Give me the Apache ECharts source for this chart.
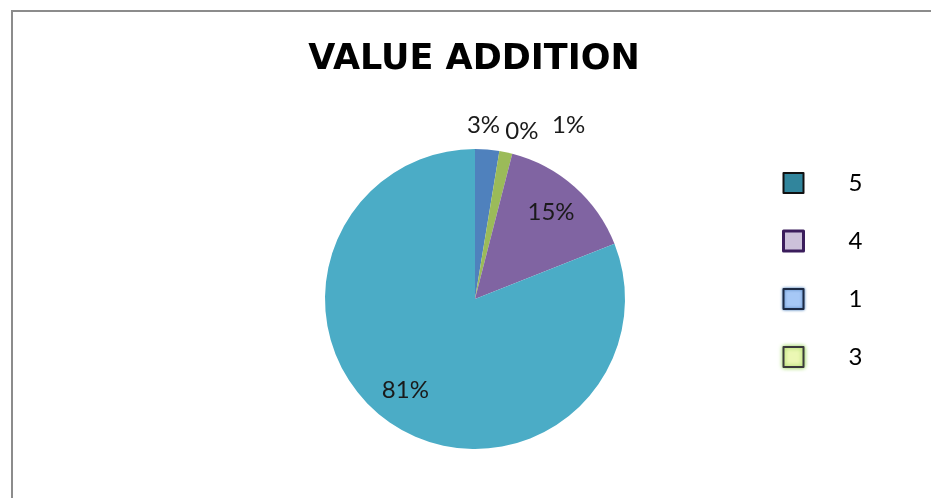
<!DOCTYPE html>
<html>
<head>
<meta charset="utf-8">
<script src="https://cdn.jsdelivr.net/npm/echarts@6/dist/echarts.min.js"></script>
<style>
  html, body { margin: 0; padding: 0; background: #fff; overflow: hidden; }
  #chart { position: absolute; left: 0; top: 0; width: 931px; height: 498px; }
  #frame { position: absolute; left: 11px; top: 10px; width: 1000px; height: 600px; border: 2px solid #8c8c8c; pointer-events: none; }
</style>
</head>
<body>
<div id="chart"></div>
<div id="frame"></div>
<script>
// pie order, clockwise from 12 o'clock
const categories = ['1', '2', '3', '4', '5'];
const values = [2.6, 0, 1.4, 15.0, 81.0];
const sliceColors = ['#4F81BD', '#C0504D', '#9BBB59', '#8064A2', '#4BACC6'];
const legendOrder = ['5', '4', '1', '3'];

const legendLook = {
  '5': { color: '#31859C', borderColor: '#111111', borderWidth: 2 },
  '4': { color: '#CCC1DA', borderColor: '#3b1d5c', borderWidth: 3 },
  '1': { color: '#A6C8F6', borderColor: '#1c2a44', borderWidth: 2, shadowColor: '#4F81BD', shadowBlur: 3 },
  '3': { color: '#EBF7B4', borderColor: '#3a3a3a', borderWidth: 2, shadowColor: '#92D050', shadowBlur: 4 }
};

// Excel pushed the thin-slice labels apart sideways
const thinLabelNudge = { 0: [-6, 4], 1: [18, 8], 2: [57, 0] };

const chart = echarts.init(document.getElementById('chart'));

const pieData = categories.map((c, i) => ({
  name: c,
  value: values[i],
  itemStyle: { color: sliceColors[i] }
}));
const labelData = categories.map((c, i) => ({ name: c, value: values[i] }));

const CENTER = [475, 299];
const labelFont = { fontFamily: 'Lato', fontSize: 24, color: '#1a1a1a' };
const clear = { color: 'rgba(0,0,0,0)', borderWidth: 0 };

chart.setOption({
  animation: false,
  title: {
    text: 'VALUE ADDITION',
    left: 469,
    top: 37,
    textAlign: 'center',
    textStyle: { fontFamily: 'DejaVu Sans', fontWeight: 'bold', fontSize: 35, color: '#000' }
  },
  legend: {
    orient: 'vertical',
    left: 777,
    top: 166,
    icon: 'rect',
    itemWidth: 20,
    itemHeight: 20,
    itemGap: 34,
    selectedMode: false,
    data: legendOrder.map(n => ({ name: n, itemStyle: legendLook[n] })),
    textStyle: { fontFamily: 'Lato', fontSize: 24, lineHeight: 24, color: '#000', padding: [0, 0, 0, 40] }
  },
  series: [
    {
      type: 'pie',
      center: CENTER,
      radius: 150,
      startAngle: 90,
      clockwise: true,
      data: pieData,
      label: { show: false },
      labelLine: { show: false },
      itemStyle: { borderWidth: 0 },
      silent: true
    },
    {
      // labels of the large slices, inside the pie
      type: 'pie',
      center: CENTER,
      radius: [74, 150],
      startAngle: 90,
      clockwise: true,
      data: labelData,
      itemStyle: clear,
      emphasis: { disabled: true },
      label: {
        position: 'inside',
        ...labelFont,
        formatter: p => (p.percent >= 5 ? Math.round(p.percent) + '%' : '')
      },
      labelLayout: p => (p.dataIndex === 4 ? { dx: -5, dy: -4 } : {}),
      labelLine: { show: false },
      silent: true
    },
    {
      // labels of the thin slices, above the pie
      type: 'pie',
      center: CENTER,
      radius: [160, 190],
      startAngle: 90,
      clockwise: true,
      data: labelData,
      itemStyle: clear,
      emphasis: { disabled: true },
      label: {
        position: 'inside',
        ...labelFont,
        formatter: p => (p.percent < 5 ? Math.round(p.percent) + '%' : '')
      },
      labelLayout: p => {
        const n = thinLabelNudge[p.dataIndex];
        return n ? { dx: n[0], dy: n[1] } : {};
      },
      labelLine: { show: false },
      silent: true
    }
  ]
});
</script>
</body>
</html>
